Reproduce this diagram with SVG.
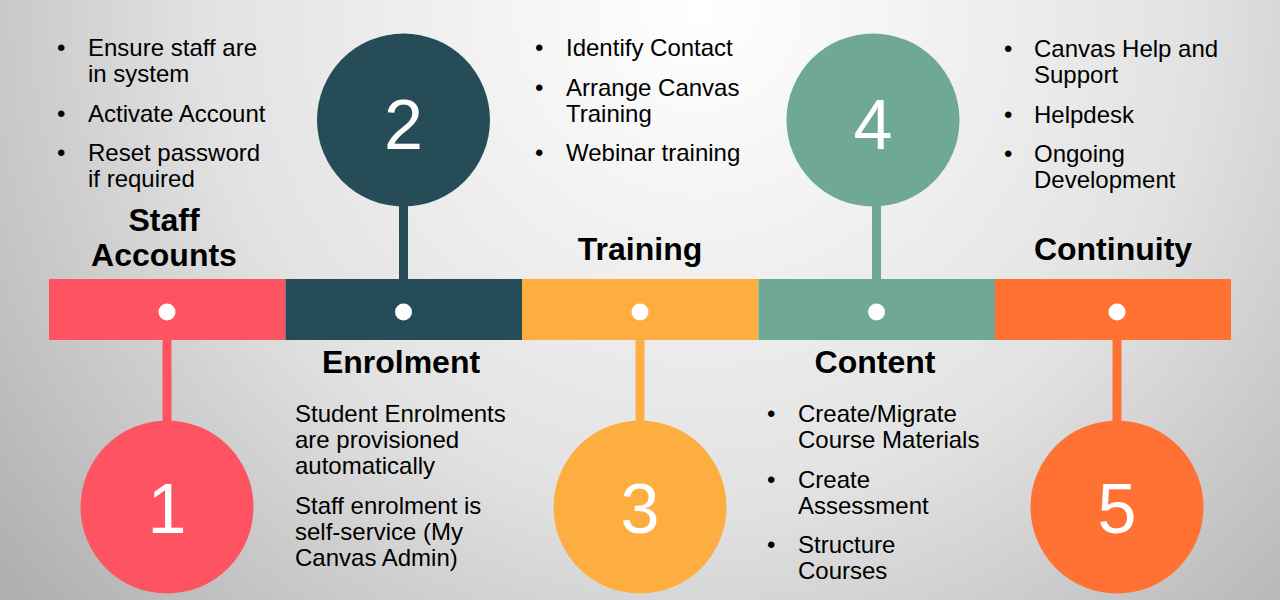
<svg xmlns="http://www.w3.org/2000/svg" width="1280" height="600" viewBox="0 0 1280 600">
<defs>
<radialGradient id="bg" gradientUnits="userSpaceOnUse" cx="700" cy="10" r="900">
<stop offset="0" stop-color="#FFFFFF"/>
<stop offset="0.55" stop-color="#E2E2E2"/>
<stop offset="1" stop-color="#AFAFAF"/>
</radialGradient>
<style>
.body{font-family:"Liberation Sans",Arial,sans-serif;font-size:24px;fill:#000}
.title{font-family:"Liberation Sans",Arial,sans-serif;font-size:32px;font-weight:bold;fill:#000;text-anchor:middle}
.num{font-family:"Liberation Sans",Arial,sans-serif;font-size:70px;fill:#fff;text-anchor:middle}
.dot{fill:#fff}
.c1{fill:#FE5461}.c2{fill:#264D57}.c3{fill:#FEAE40}.c4{fill:#6FA993}.c5{fill:#FF7234}
</style>
</defs>
<rect width="1280" height="600" fill="url(#bg)"/>

<g id="connectors">
<rect class="c1" x="162.5" y="338" width="9" height="84"/>
<rect class="c2" x="399" y="200" width="9" height="81"/>
<rect class="c3" x="635.5" y="338" width="9" height="84"/>
<rect class="c4" x="872" y="200" width="9" height="81"/>
<rect class="c5" x="1112.5" y="338" width="9" height="84"/>
</g>

<g id="bar">
<rect class="c1" x="49" y="279" width="236.5" height="61"/>
<rect class="c2" x="285.5" y="279" width="236.5" height="61"/>
<rect class="c3" x="522" y="279" width="236.5" height="61"/>
<rect class="c4" x="758.5" y="279" width="236.5" height="61"/>
<rect class="c5" x="995" y="279" width="236" height="61"/>
<circle class="dot" cx="167" cy="312" r="8.5"/>
<circle class="dot" cx="403.5" cy="312" r="8.5"/>
<circle class="dot" cx="640" cy="312" r="8.5"/>
<circle class="dot" cx="876.5" cy="312" r="8.5"/>
<circle class="dot" cx="1117" cy="312" r="8.5"/>
</g>

<g id="node1">
<circle class="c1" cx="167" cy="507" r="86.5"/>
<text class="num" x="167" y="533">1</text>
<text class="title" x="164" y="231">Staff</text>
<text class="title" x="164" y="266">Accounts</text>
<g class="body">
<text x="57" y="56">•</text><text x="88" y="56">Ensure staff are</text>
<text x="88" y="82">in system</text>
<text x="57" y="122">•</text><text x="88" y="122">Activate Account</text>
<text x="57" y="161">•</text><text x="88" y="161">Reset password</text>
<text x="88" y="187">if required</text>
</g>
</g>

<g id="node2">
<circle class="c2" cx="403.5" cy="120" r="86.5"/>
<text class="num" x="403.5" y="149">2</text>
<text class="title" x="401" y="373">Enrolment</text>
<g class="body">
<text x="295" y="422">Student Enrolments</text>
<text x="295" y="448">are provisioned</text>
<text x="295" y="474">automatically</text>
<text x="295" y="514">Staff enrolment is</text>
<text x="295" y="540">self-service (My</text>
<text x="295" y="566">Canvas Admin)</text>
</g>
</g>

<g id="node3">
<circle class="c3" cx="640" cy="507" r="86.5"/>
<text class="num" x="640" y="533">3</text>
<text class="title" x="640" y="260">Training</text>
<g class="body">
<text x="535" y="56">•</text><text x="566" y="56">Identify Contact</text>
<text x="535" y="96">•</text><text x="566" y="96">Arrange Canvas</text>
<text x="566" y="122">Training</text>
<text x="535" y="161">•</text><text x="566" y="161">Webinar training</text>
</g>
</g>

<g id="node4">
<circle class="c4" cx="873" cy="120" r="86.5"/>
<text class="num" x="873" y="149">4</text>
<text class="title" x="875" y="373">Content</text>
<g class="body">
<text x="767" y="422">•</text><text x="798" y="422">Create/Migrate</text>
<text x="798" y="448">Course Materials</text>
<text x="767" y="488">•</text><text x="798" y="488">Create</text>
<text x="798" y="514">Assessment</text>
<text x="767" y="553">•</text><text x="798" y="553">Structure</text>
<text x="798" y="579">Courses</text>
</g>
</g>

<g id="node5">
<circle class="c5" cx="1117" cy="507" r="86.5"/>
<text class="num" x="1117" y="533">5</text>
<text class="title" x="1113" y="260">Continuity</text>
<g class="body">
<text x="1004" y="57">•</text><text x="1034" y="57">Canvas Help and</text>
<text x="1034" y="83">Support</text>
<text x="1004" y="123">•</text><text x="1034" y="123">Helpdesk</text>
<text x="1004" y="162">•</text><text x="1034" y="162">Ongoing</text>
<text x="1034" y="188">Development</text>
</g>
</g>
</svg>
